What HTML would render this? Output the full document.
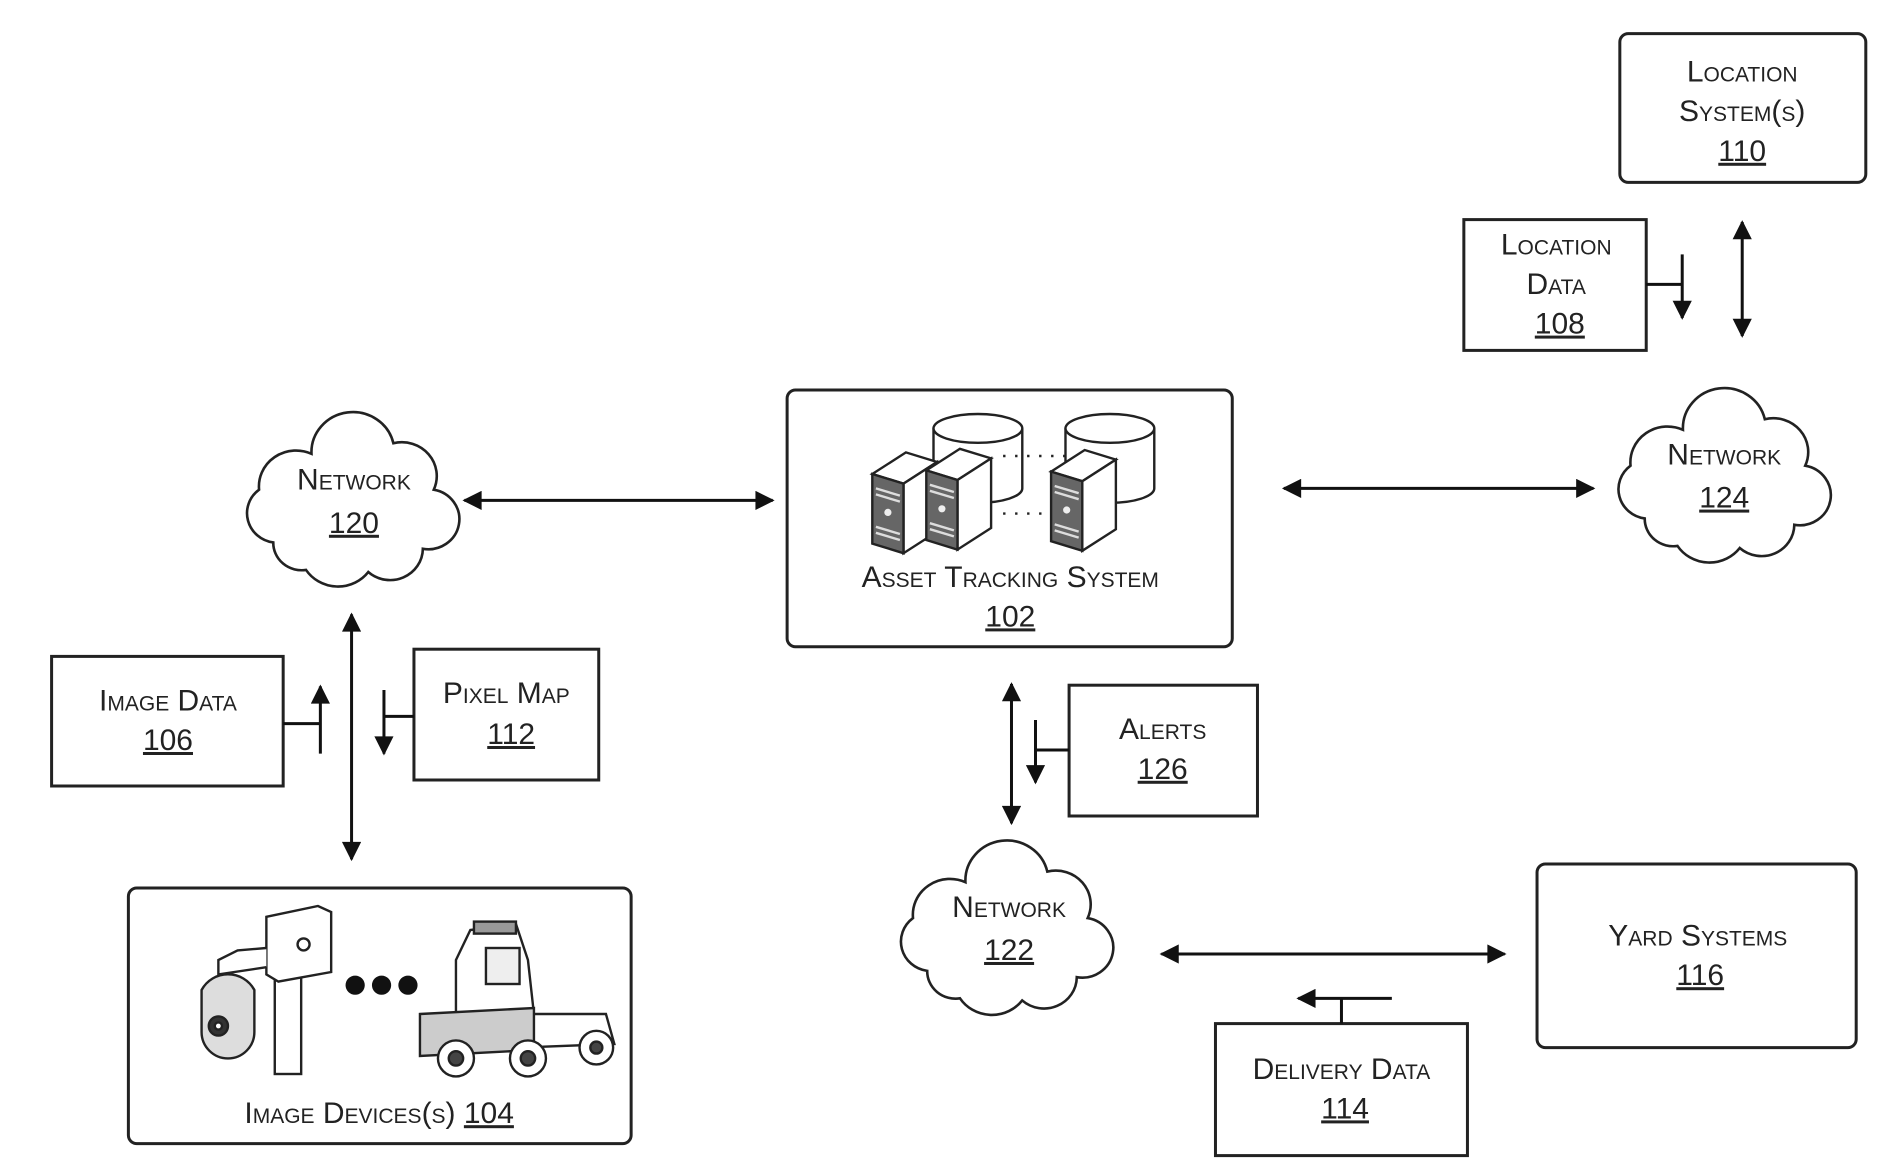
<!DOCTYPE html>
<html><head><meta charset="utf-8"><style>
html,body{margin:0;padding:0;background:#fff;}
svg{display:block}
text{font-family:"Liberation Sans",sans-serif;font-variant:small-caps;fill:#222;text-anchor:middle;font-size:25px}
.u{text-decoration:underline}
</style></head><body>
<svg width="1879" height="1164" viewBox="0 0 1566 970" preserveAspectRatio="none" xmlns="http://www.w3.org/2000/svg">
<defs>
<marker id="b" viewBox="0 0 10 10" refX="9" refY="5" markerWidth="22" markerHeight="16" orient="auto-start-reverse" markerUnits="userSpaceOnUse"><path d="M0,0 L10,5 L0,10 Z" fill="#111"/></marker>
<path id="cloud" d="M25,112 A28,28 0 0,1 12,62 A34,34 0 0,1 60,28 A38,38 0 0,1 135,18 A32,32 0 0,1 172,62 A28,28 0 0,1 162,118 A30,30 0 0,1 112,140 A35,35 0 0,1 55,138 A26,26 0 0,1 25,112 Z" fill="#fff" stroke="#222" stroke-width="2.6" vector-effect="non-scaling-stroke"/>
<g id="srv">
<path d="M0,18 L28,0 L54,8 L26,26 Z" fill="#fff" stroke="#222" stroke-width="2"/>
<path d="M26,26 L54,8 L54,66 L26,84 Z" fill="#fff" stroke="#222" stroke-width="2"/>
<path d="M0,18 L26,26 L26,84 L0,76 Z" fill="#666" stroke="#222" stroke-width="2"/>
<path d="M3,30 L23,36 M3,35 L23,41 M3,62 L23,68 M3,67 L23,73" stroke="#ddd" stroke-width="2"/>
<circle cx="13" cy="50" r="3" fill="#eee"/>
</g>
<g id="cyl">
<path d="M0,12 L0,62 A37,12 0 0,0 74,62 L74,12" fill="#fff" stroke="#222" stroke-width="2"/>
<ellipse cx="37" cy="12" rx="37" ry="12" fill="#fff" stroke="#222" stroke-width="2"/>
</g>
</defs>
<g fill="none" stroke="#222" stroke-width="2.5">
<rect x="1350" y="28" width="205" height="124" rx="7"/>
<rect x="1220" y="183" width="152" height="109"/>
<rect x="656" y="325" width="371" height="214" rx="7"/>
<rect x="43" y="547" width="193" height="108"/>
<rect x="345" y="541" width="154" height="109"/>
<rect x="107" y="740" width="419" height="213" rx="7"/>
<rect x="891" y="571" width="157" height="109"/>
<rect x="1281" y="720" width="266" height="153" rx="7"/>
<rect x="1013" y="853" width="210" height="110"/>
</g>
<use href="#cloud" transform="translate(205,353.5) scale(0.91,0.88)"/>
<use href="#cloud" transform="translate(1348,333.5) scale(0.91,0.88)"/>
<use href="#cloud" transform="translate(750,710.5) scale(0.91,0.88)"/>
<g stroke="#111" stroke-width="2.5" fill="none">
<line x1="1452" y1="185" x2="1452" y2="280" marker-start="url(#b)" marker-end="url(#b)"/>
<polyline points="1372,237 1402,237"/><line x1="1402" y1="212" x2="1402" y2="265" marker-end="url(#b)"/>
<line x1="1070" y1="407" x2="1328" y2="407" marker-start="url(#b)" marker-end="url(#b)"/>
<line x1="387" y1="417" x2="644" y2="417" marker-start="url(#b)" marker-end="url(#b)"/>
<line x1="293" y1="512" x2="293" y2="716" marker-start="url(#b)" marker-end="url(#b)"/>
<polyline points="236,603 267,603"/><line x1="267" y1="628" x2="267" y2="572" marker-end="url(#b)"/>
<polyline points="345,597 320,597"/><line x1="320" y1="575" x2="320" y2="628" marker-end="url(#b)"/>
<polyline points="891,625 863,625"/><line x1="863" y1="600" x2="863" y2="652" marker-end="url(#b)"/>
<line x1="843" y1="570" x2="843" y2="686" marker-start="url(#b)" marker-end="url(#b)"/>
<line x1="968" y1="795" x2="1254" y2="795" marker-start="url(#b)" marker-end="url(#b)"/>
<polyline points="1118,853 1118,832"/><line x1="1160" y1="832" x2="1082" y2="832" marker-end="url(#b)"/>
</g>
<use href="#cyl" transform="translate(778,345)"/>
<use href="#cyl" transform="translate(888,345)"/>
<g stroke="#222" stroke-width="2" stroke-dasharray="2,8"><line x1="836" y1="380" x2="890" y2="380"/><line x1="836" y1="428" x2="876" y2="428"/></g>
<use href="#srv" transform="translate(727,377)"/>
<use href="#srv" transform="translate(772,374)"/>
<use href="#srv" transform="translate(876,375)"/>
<g stroke="#222" stroke-width="2" fill="#fff">
<rect x="229" y="775" width="22" height="120"/>
<path d="M222,764 L265,755 L276,760 L276,810 L232,818 L222,812 Z"/>
<circle cx="253" cy="787" r="5"/>
<path d="M222,790 L198,792 L182,800 L182,812 L222,806"/>
<path d="M168,825 A25,25 0 0,1 212,825 L212,860 A22,22 0 0,1 168,860 Z" fill="#ddd"/>
<circle cx="182" cy="855" r="8" fill="#333"/>
<circle cx="182" cy="855" r="3" fill="#fff"/>
<path d="M380,800 L392,775 L430,770 L440,800 L445,845 L505,845 L512,870 L380,875 Z"/>
<path d="M350,845 L445,840 L445,875 L350,880 Z" fill="#ccc"/>
<rect x="395" y="768" width="35" height="10" fill="#999"/>
<circle cx="380" cy="882" r="15"/><circle cx="380" cy="882" r="6" fill="#444"/>
<circle cx="440" cy="882" r="15"/><circle cx="440" cy="882" r="6" fill="#444"/>
<circle cx="497" cy="873" r="14"/><circle cx="497" cy="873" r="5" fill="#444"/>
<rect x="405" y="790" width="28" height="30" fill="#eee"/>
</g>
<g fill="#111"><circle cx="296" cy="821" r="8"/><circle cx="318" cy="821" r="8"/><circle cx="340" cy="821" r="8"/></g>
<text x="1452" y="68">Location</text><text x="1452" y="101">System(s)</text><text x="1452" y="134" class="u">110</text>
<text x="1297" y="212">Location</text><text x="1297" y="245">Data</text><text x="1300" y="278" class="u">108</text>
<text x="1437" y="387">Network</text><text x="1437" y="423" class="u">124</text>
<text x="295" y="408">Network</text><text x="295" y="444" class="u">120</text>
<text x="842" y="489">Asset Tracking System</text><text x="842" y="522" class="u">102</text>
<text x="140" y="592">Image Data</text><text x="140" y="625" class="u">106</text>
<text x="422" y="586">Pixel Map</text><text x="426" y="620" class="u">112</text>
<text x="969" y="616">Alerts</text><text x="969" y="649" class="u">126</text>
<text x="841" y="764">Network</text><text x="841" y="800" class="u">122</text>
<text x="1415" y="788">Yard Systems</text><text x="1417" y="821" class="u">116</text>
<text x="1118" y="899">Delivery Data</text><text x="1121" y="932" class="u">114</text>
<text x="316" y="936">Image Devices(s) <tspan class="u">104</tspan></text>
</svg>
</body></html>
